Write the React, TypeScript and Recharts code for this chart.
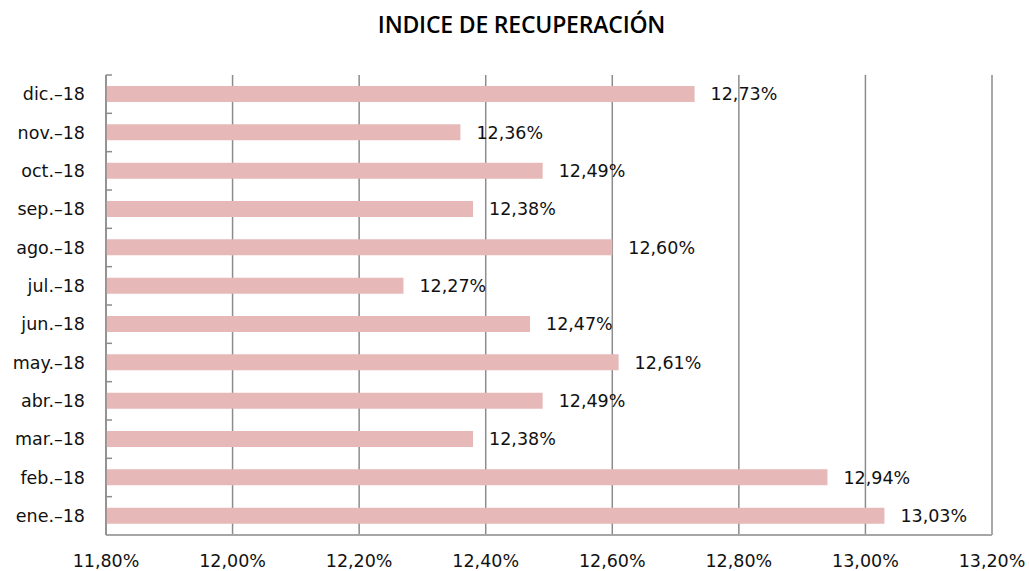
import { Bar, BarChart, CartesianGrid, LabelList, XAxis, YAxis } from "recharts";

const months = [
  "ene.-18", "feb.-18", "mar.-18", "abr.-18", "may.-18", "jun.-18",
  "jul.-18", "ago.-18", "sep.-18", "oct.-18", "nov.-18", "dic.-18",
];
const indice = [13.03, 12.94, 12.38, 12.49, 12.61, 12.47, 12.27, 12.6, 12.38, 12.49, 12.36, 12.73];
const xTicks = [11.8, 12.0, 12.2, 12.4, 12.6, 12.8, 13.0, 13.2];

const data = months.map((m, i) => ({ month: m, value: indice[i] }));

const fmt = (v: number) => v.toFixed(2).replace(".", ",") + "%";
const font = "'DejaVu Sans', Verdana, sans-serif";
const fs = 17.5;

const W = 1029;
const H = 571;
const margin = { top: 75, right: 37, bottom: 0, left: 0 };
const xAxisH = 36;
const plotH = H - margin.top - xAxisH;
const band = plotH / months.length;

function MonthTick({ x, y, payload }: any) {
  return (
    <g>
      <line x1={x + 8} x2={x + 14} y1={y - band / 2} y2={y - band / 2} stroke="#8c8c8c" strokeWidth={1.5} />
      <text x={x - 13} y={y} dy={6} textAnchor="end" fontSize={fs} fill="#111" fontFamily={font}>
        {payload.value.replace("-", "\u2013")}
      </text>
    </g>
  );
}

function PctTick({ x, y, payload }: any) {
  return (
    <text x={x} y={y + 24} textAnchor="middle" fontSize={fs} fill="#111" fontFamily={font}>
      {fmt(payload.value)}
    </text>
  );
}

export default function App() {
  return (
    <div style={{ position: "absolute", left: 0, top: 0, width: W, height: H, background: "#fff" }}>
      <div
        style={{
          position: "absolute",
          top: 8,
          left: 14,
          width: W - 14,
          textAlign: "center",
          fontFamily: "'Open Sans', 'Noto Sans', sans-serif",
          fontSize: 23,
          fontWeight: 600,
          color: "#000",
          letterSpacing: -0.2,
        }}
      >
        INDICE DE RECUPERACIÓN
      </div>
      <BarChart width={W} height={H} data={data} layout="vertical" margin={margin}>
        <CartesianGrid horizontal={false} stroke="#8c8c8c" strokeWidth={1.5} />
        <XAxis
          type="number"
          domain={[11.8, 13.2]}
          ticks={xTicks}
          interval={0}
          height={xAxisH}
          tick={<PctTick />}
          tickLine={false}
          axisLine={{ stroke: "#a6a6a6", strokeWidth: 2 }}
        />
        <YAxis
          type="category"
          dataKey="month"
          reversed
          width={106}
          interval={0}
          tick={<MonthTick />}
          tickLine={false}
          axisLine={{ stroke: "#8c8c8c", strokeWidth: 1.5 }}
        />
        <Bar dataKey="value" fill="#e6b8b8" barSize={16} isAnimationActive={false}>
          <LabelList
            dataKey="value"
            position="right"
            offset={16}
            formatter={(v: any) => fmt(Number(v))}
            style={{ fontSize: fs, fill: "#111", fontFamily: font }}
          />
        </Bar>
      </BarChart>
    </div>
  );
}
